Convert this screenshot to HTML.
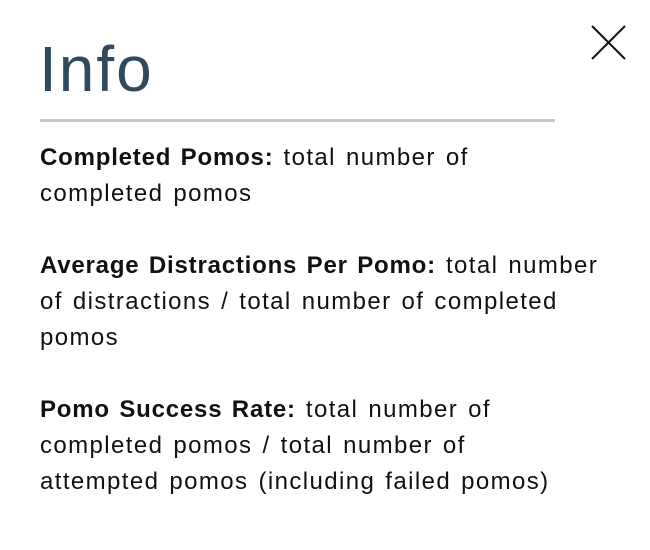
<!DOCTYPE html>
<html><head><meta charset="utf-8"><style>
body{margin:0;width:650px;height:550px;background:#fff;overflow:hidden;font-family:"Liberation Sans",sans-serif;position:relative}
.t{position:absolute;left:39px;top:33px;font-size:64px;color:#2e4a5c;line-height:72px;letter-spacing:2px}
.rule{position:absolute;left:40px;top:119px;width:515px;height:3px;background:#c8c8c8}
.p{position:absolute;left:40px;font-size:24px;line-height:36px;color:#111;white-space:nowrap;letter-spacing:1.4px;word-spacing:2px}
.p div{height:36px}
b{font-weight:bold;letter-spacing:0.8px}
.x{position:absolute;left:590px;top:24px;width:37px;height:37px}
</style></head><body>
<div class="t">Info</div>
<svg class="x" viewBox="0 0 37 37"><path d="M2 2L35 35M35 2L2 35" stroke="#111" stroke-width="2" fill="none"/></svg>
<div class="rule"></div>
<div class="p" style="top:140px"><div><b>Completed Pomos:</b> total number of</div><div>completed pomos</div></div>
<div class="p" style="top:248px"><div><b>Average Distractions Per Pomo:</b> total number</div><div>of distractions / total number of completed</div><div>pomos</div></div>
<div class="p" style="top:392px"><div><b>Pomo Success Rate:</b> total number of</div><div>completed pomos / total number of</div><div>attempted pomos (including failed pomos)</div></div>
</body></html>
